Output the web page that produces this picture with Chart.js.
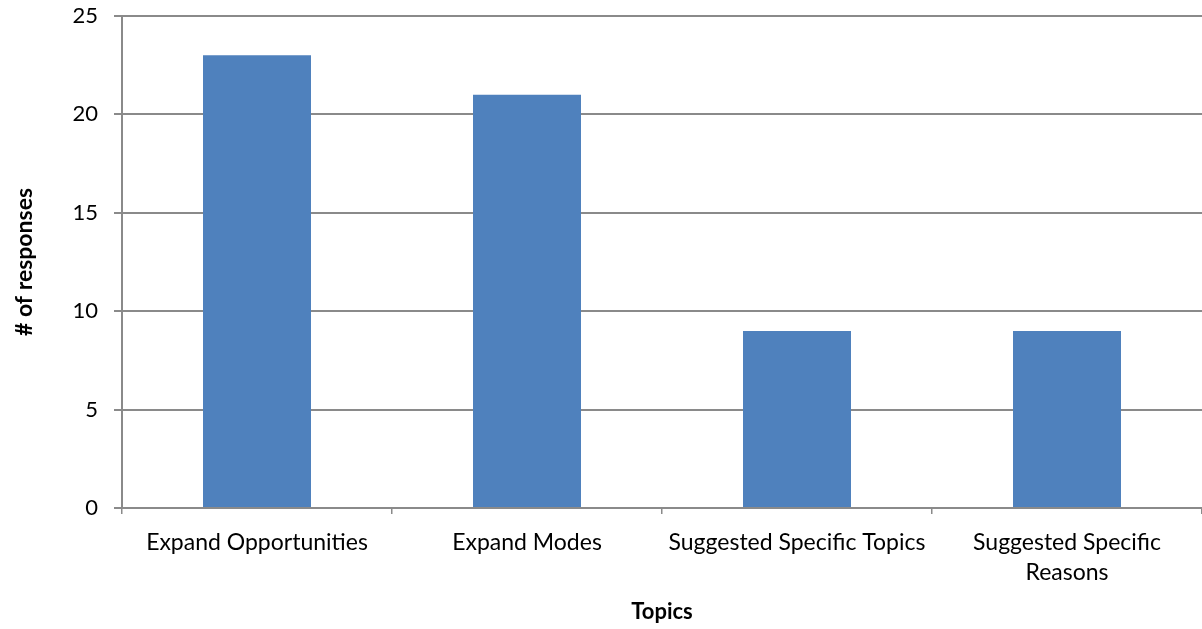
<!DOCTYPE html>
<html>
<head>
<meta charset="utf-8">
<script src="https://cdn.jsdelivr.net/npm/chart.js@4/dist/chart.umd.min.js"></script>
<style>
  html, body { margin: 0; padding: 0; background: #fff; overflow: hidden; }
  #wrap { width: 1202px; height: 629px; }
</style>
</head>
<body>
<div id="wrap"><canvas id="barchart" width="1202" height="629"></canvas></div>
<script>
// chart data
const categories = [
  "Expand Opportunities",
  "Expand Modes",
  "Suggested Specific Topics",
  ["Suggested Specific", "Reasons"]
];
const responses = [23, 21, 9, 9];
const yTicks = [0, 5, 10, 15, 20, 25];

const gridColor = "#8a8a8a";
const fontFamily = "Lato, 'Open Sans', sans-serif";

let config = {
  type: "bar",
  data: {
    labels: categories,
    datasets: [
      {
        label: "# of responses",
        data: responses,
        backgroundColor: "#4f81bd",
        borderWidth: 0,
        barPercentage: 0.4,
        categoryPercentage: 1.0,
      },
    ],
  },
  options: {
    responsive: false,
    animation: false,
    layout: { padding: { top: 16, right: 0, left: 0, bottom: 0 } },
    plugins: {
      legend: { display: false },
      tooltip: { enabled: false },
    },
    scales: {
      x: {
        afterFit: (axis) => { axis.height = 121; },
        grid: {
          drawOnChartArea: false,
          drawTicks: true,
          tickLength: 6,
          color: gridColor,
          lineWidth: 1.5,
          offset: true,
        },
        border: { color: gridColor, width: 2 },
        ticks: {
          color: "#000",
          font: { family: fontFamily, size: 23, lineHeight: 1.3 },
          padding: 14,
          maxRotation: 0,
          autoSkip: false,
        },
        title: {
          display: true,
          text: "Topics",
          color: "#000",
          font: { family: fontFamily, size: 22, weight: "bold" },
          padding: { top: 4, bottom: 4 },
        },
      },
      y: {
        min: 0,
        max: 25,
        afterFit: (axis) => {
          axis.width = 122;
          // top label overflow is covered by layout padding
          axis.paddingTop = 0;
        },
        afterBuildTicks: (axis) => { axis.ticks = yTicks.map((v) => ({ value: v })); },
        grid: {
          color: gridColor,
          lineWidth: 2,
          drawTicks: true,
          tickLength: 8,
        },
        border: { color: gridColor, width: 2 },
        ticks: {
          color: "#000",
          font: { family: fontFamily, size: 22 },
          padding: 16,
        },
        title: {
          display: true,
          text: "# of responses",
          color: "#000",
          font: { family: fontFamily, size: 23, weight: "bold" },
          padding: { top: 11, bottom: 11 },
        },
      },
    },
  },
};

let myChart = new Chart(document.getElementById("barchart"), config);
</script>
</body>
</html>
